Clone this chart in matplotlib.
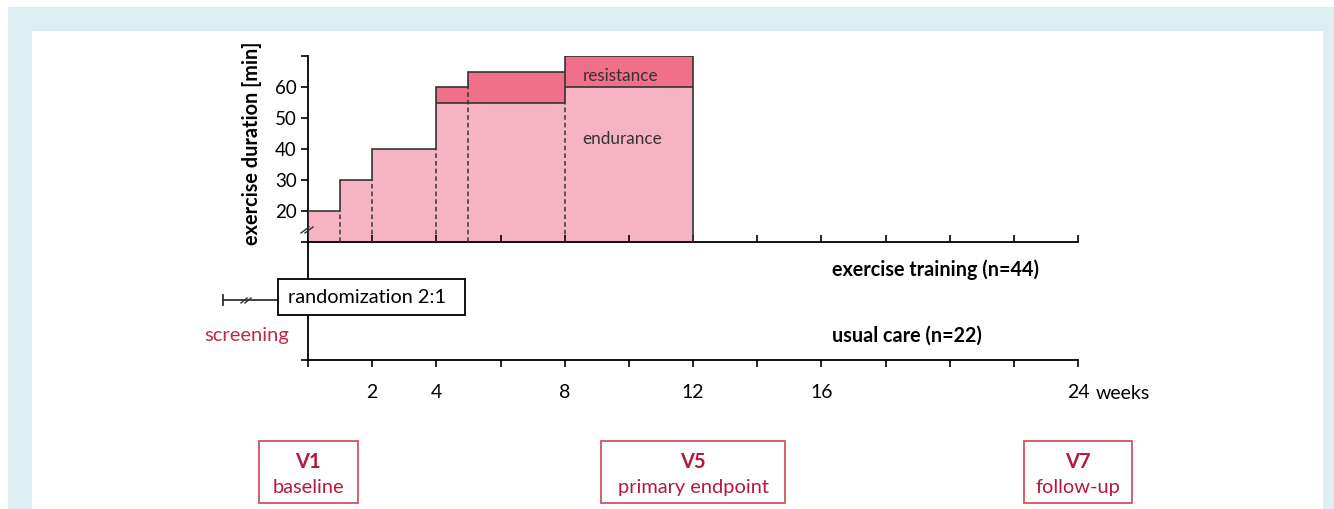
import numpy as np
import matplotlib
matplotlib.use('Agg')
import matplotlib.pyplot as plt
import matplotlib.transforms as mtransforms
from matplotlib.patches import Rectangle
from matplotlib.lines import Line2D

plt.rcParams['font.family'] = ['Lato', 'DejaVu Sans']

# training schedule: step edges (weeks) and minutes per session
step_edges = [0, 1, 2, 4, 5, 8, 12]
endurance_min = [20, 30, 40, 55, 55, 60]
resistance_min = [0, 0, 0, 5, 10, 10]

y_ticks = [20, 30, 40, 50, 60, 70]
y_tick_labels = ['20', '30', '40', '50', '60', '']
week_ticks = [0, 2, 4, 6, 8, 10, 12, 14, 16, 18, 20, 22, 24]
week_tick_labels = ['', '2', '4', '', '8', '', '12', '', '16', '', '', '', '24']

group_labels = ['exercise training (n=44)', 'usual care (n=22)']

visit_weeks = [0, 12, 24]
visit_ids = ['V1', 'V5', 'V7']
visit_names = ['baseline', 'primary endpoint', 'follow-up']

W, H = 1334, 509
PINK = '#f6b3c4'
RED = '#f06f8a'
EDGE = '#333333'
CRIMSON = '#b5183d'
BOXRED = '#d9505c'

fig = plt.figure(figsize=(W / 100, H / 100), dpi=100)
fig.patch.set_facecolor('white')
# pixel coordinates, origin top-left
px = mtransforms.Affine2D().scale(1 / W, -1 / H).translate(0, 1) + fig.transFigure

fig.patches.append(Rectangle((8, 7), W - 8, H - 7, transform=px,
                             facecolor='#ddeef3', edgecolor='none', zorder=-2))
fig.patches.append(Rectangle((32, 31), 1323 - 32, H - 31, transform=px,
                             facecolor='white', edgecolor='none', zorder=-1))


def px_axes(left, top, right, bottom):
    a = fig.add_axes([left / W, 1 - bottom / H, (right - left) / W, (bottom - top) / H])
    a.patch.set_visible(False)
    for s in ['top', 'right']:
        a.spines[s].set_visible(False)
    for s in ['left', 'bottom']:
        a.spines[s].set_linewidth(1.3)
    return a


ax = px_axes(308, 56, 1078, 242)
ax_low = px_axes(308, 242, 1078, 360)

# --- exercise duration steps ---
ax.set_xlim(0, 24)
ax.set_ylim(10, 70)
widths = np.diff(step_edges)
total_min = [e + r for e, r in zip(endurance_min, resistance_min)]
ax.bar(step_edges[:-1], endurance_min, width=widths, align='edge', color=PINK, zorder=1)
ax.bar(step_edges[:-1], resistance_min, width=widths, bottom=endurance_min,
       align='edge', color=RED, zorder=1)
ax.stairs(total_min, step_edges, baseline=10, color=EDGE, lw=1.2, zorder=3)
for i, r in enumerate(resistance_min):
    if r > 0:
        ax.hlines(endurance_min[i], step_edges[i], step_edges[i + 1], color=EDGE, lw=1.2, zorder=3)
for i in range(1, len(step_edges) - 1):
    x = step_edges[i]
    lo = min(total_min[i - 1], total_min[i])
    if endurance_min[i - 1] == endurance_min[i]:
        ax.vlines(x, 10, lo, color=EDGE, lw=1.1, linestyles=(0, (3, 2)), zorder=3)
    else:
        e_lo = min(endurance_min[i - 1], endurance_min[i])
        ax.vlines(x, 10, e_lo, color=EDGE, lw=1.1, linestyles=(0, (3, 2)), zorder=3)
        if lo > e_lo:
            ax.vlines(x, e_lo, lo, color=EDGE, lw=1.2, zorder=3)

ax.set_xticks(week_ticks)
ax.tick_params(axis='x', direction='in', length=5, width=1.2, labelbottom=False)
ax.set_yticks(y_ticks, y_tick_labels)
ax.tick_params(axis='y', direction='out', length=5, width=1.2, labelsize=13.5, pad=3)

ax.text(8.55, 63.6, 'resistance', fontsize=12.3, color=EDGE, va='center')
ax.text(8.55, 43.2, 'endurance', fontsize=12.3, color=EDGE, va='center')

fig.text(252, 143, 'exercise duration [min]', transform=px, rotation=90,
         ha='center', va='center', fontsize=14.3, fontweight='bold')

# axis break marks on duration axis
for dx in (-2, 2):
    fig.add_artist(Line2D([303 + dx, 311 + dx], [233, 227], transform=px, color=EDGE, lw=1))

# --- group / time axis ---
ax_low.set_xlim(0, 24)
ax_low.set_ylim(0, 1)
ax_low.set_xticks(week_ticks, week_tick_labels)
ax_low.tick_params(axis='x', direction='out', length=5, width=1.2, labelsize=14, pad=12)
ax_low.set_yticks([0, 1], ['', ''])
ax_low.tick_params(axis='y', direction='out', length=5, width=1.2)

fig.text(1096, 394, 'weeks', transform=px, ha='left', va='center', fontsize=14)

for label, y in zip(group_labels, [270, 336]):
    fig.text(832, y, label, transform=px, ha='left', va='center',
             fontsize=14.2, fontweight='bold')

# screening line and randomization box
fig.add_artist(Line2D([223, 278], [300, 300], transform=px, color=EDGE, lw=1.3))
fig.add_artist(Line2D([223, 223], [295, 305], transform=px, color=EDGE, lw=1.3))
for dx in (-2, 2):
    fig.add_artist(Line2D([243 + dx, 249 + dx], [303, 298], transform=px, color=EDGE, lw=1))
fig.patches.append(Rectangle((278, 279), 187, 36, transform=px, facecolor='white',
                             edgecolor='black', lw=1.3, zorder=5))
fig.text(288, 298, 'randomization 2:1', transform=px, ha='left', va='center',
         fontsize=14.3, zorder=6)
fig.text(247, 336, 'screening', transform=px, ha='center', va='center',
         fontsize=14.5, color='#c0284a')

# --- visits ---
box_w = [99, 184, 108]
for wk, vid, name, bw in zip(visit_weeks, visit_ids, visit_names, box_w):
    cx = ax_low.transData.transform((wk, 0))[0]
    fig.patches.append(Rectangle((cx - bw / 2, 441), bw, 62, transform=px, facecolor='white',
                                 edgecolor=BOXRED, lw=1.3))
    fig.text(cx, 462, vid, transform=px, ha='center', va='center', fontsize=14.5,
             fontweight='bold', color=CRIMSON)
    fig.text(cx, 488, name, transform=px, ha='center', va='center', fontsize=14.4,
             color=CRIMSON)

fig.savefig('out.png', dpi=100)
